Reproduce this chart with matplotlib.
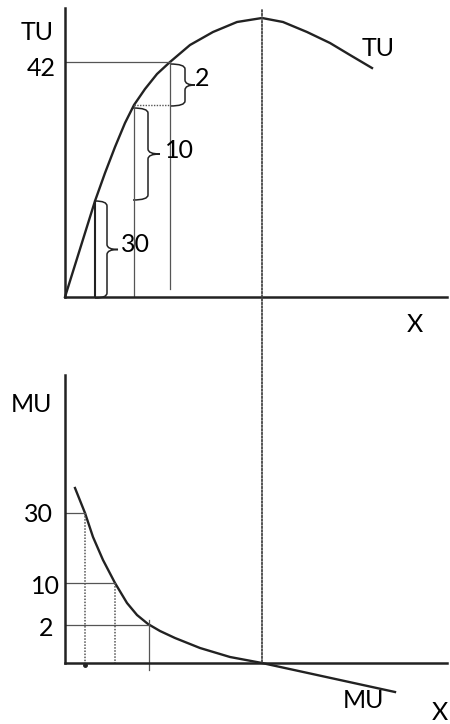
import matplotlib.pyplot as plt
from matplotlib.path import Path
from matplotlib.patches import PathPatch, ConnectionPatch

plt.rcParams['font.family'] = ['Lato', 'DejaVu Sans']

# total utility curve (schematic units)
tu_x = [0, 15, 30, 40, 50, 60, 69, 80, 92, 105, 125, 148, 172, 197, 218, 242, 265, 285, 307]
tu_y = [0, 48, 96, 124, 150, 174, 192, 208, 223, 235, 252, 265, 275, 279, 275, 265, 254, 242, 229]

# marginal utility curve
mu_x = [10, 20, 28, 38, 50, 62, 72, 83, 95, 110, 135, 165, 197, 330]
mu_y = [175, 150, 126, 103, 80, 60, 48, 39, 32, 25, 15, 6, 0, -29]

# consumption levels and the utility levels they reach
units_x = [30, 69, 105]
tu_levels = [96, 192, 235]
mu_units_x = [20, 50, 84]
mu_levels = [150, 80, 38]
mu_labels = ['30', '10', '2']
x_peak = 197

LINE = '#222222'
GUIDE = '#555555'
FS = 18


def draw_brace(ax, xl, xs, xt, yt, yb):
    # curly brace opening to the left, tip pointing right
    ym = (yt + yb) / 2.0
    r = 5
    verts = [(xl, yt), (xs, yt), (xs, yt - r),
             (xs, ym + r), (xs, ym), (xt, ym),
             (xs, ym), (xs, ym - r),
             (xs, yb + r), (xs, yb), (xl, yb)]
    codes = [Path.MOVETO, Path.CURVE3, Path.CURVE3,
             Path.LINETO, Path.CURVE3, Path.CURVE3,
             Path.CURVE3, Path.CURVE3,
             Path.LINETO, Path.CURVE3, Path.CURVE3]
    ax.add_patch(PathPatch(Path(verts, codes), fill=False, lw=1.1,
                           edgecolor=LINE, clip_on=False))


def setup_axes(ax, top):
    ax.set_xlim(0, 382)
    ax.set_ylim(0, top)
    for s in ['top', 'right']:
        ax.spines[s].set_visible(False)
    for s in ['left', 'bottom']:
        ax.spines[s].set_linewidth(1.8)
        ax.spines[s].set_color(LINE)
    ax.set_xticks([])
    ax.set_yticks([])
    ax.patch.set_alpha(0)


fig = plt.figure(figsize=(4.5, 7.24), dpi=100)
W, H = 450.0, 724.0
ax1 = fig.add_axes([65 / W, (H - 297) / H, 382 / W, 289 / H])
ax2 = fig.add_axes([65 / W, (H - 663) / H, 382 / W, 288 / H])
setup_axes(ax1, 289)
setup_axes(ax2, 288)

# ---- top panel: TU
ax1.plot(tu_x, tu_y, color=LINE, lw=1.7, clip_on=False, solid_joinstyle='round')
ax1.plot([0, units_x[2]], [tu_levels[2], tu_levels[2]], color=GUIDE, lw=0.9)
ax1.plot([units_x[2], units_x[2]], [tu_levels[2], 8], color=GUIDE, lw=0.9)
ax1.plot([units_x[1], units_x[2]], [tu_levels[1], tu_levels[1]],
         color=GUIDE, lw=1.0, ls=(0, (1, 1)))
ax1.plot([units_x[1], units_x[1]], [tu_levels[1], 0], color=GUIDE, lw=0.9)
ax1.plot([units_x[0], units_x[0]], [tu_levels[0], 0], color=LINE, lw=1.5)

draw_brace(ax1, 30, 42, 53, 96, -1)
draw_brace(ax1, 68, 83, 95, 189, 97)
draw_brace(ax1, 105, 120, 130, 233, 191)

ax1.text(70, 52, '30', fontsize=FS, ha='center', va='center')
ax1.text(114, 147, '10', fontsize=FS, ha='center', va='center')
ax1.text(137, 218, '2', fontsize=FS, ha='center', va='center')
ax1.text(-28, 264, 'TU', fontsize=FS, ha='center', va='center')
ax1.text(-24, 228, '42', fontsize=FS, ha='center', va='center')
ax1.text(313, 248, 'TU', fontsize=FS, ha='center', va='center')
ax1.text(350, -28, 'X', fontsize=FS, ha='center', va='center')

# ---- bottom panel: MU
ax2.plot(mu_x, mu_y, color=LINE, lw=1.7, clip_on=False, solid_joinstyle='round')
for xu, lv, lab in zip(mu_units_x, mu_levels, mu_labels):
    ax2.plot([0, xu], [lv, lv], color=GUIDE, lw=0.9)
ax2.plot([mu_units_x[0]] * 2, [mu_levels[0], 0], color=GUIDE, lw=1.1, ls=(0, (1, 1)))
ax2.plot([mu_units_x[1]] * 2, [mu_levels[1], 0], color=GUIDE, lw=1.1, ls=(0, (1, 1)))
ax2.plot([mu_units_x[2]] * 2, [mu_levels[2] + 5, -7], color=GUIDE, lw=0.9, clip_on=False)
ax2.plot([mu_units_x[0]], [-2], marker='o', ms=2.5, color=LINE, clip_on=False)

ax2.text(-27, 149, mu_labels[0], fontsize=FS, ha='center', va='center')
ax2.text(-20, 77, mu_labels[1], fontsize=FS, ha='center', va='center')
ax2.text(-19, 35, mu_labels[2], fontsize=FS, ha='center', va='center')
ax2.text(-33, 259, 'MU', fontsize=FS, ha='center', va='center')
ax2.text(298, -38, 'MU', fontsize=FS, ha='center', va='center')
ax2.text(375, -50, 'X', fontsize=FS, ha='center', va='center')

# dotted line from the TU maximum down to where MU = 0
con = ConnectionPatch(xyA=(x_peak, 287), coordsA=ax1.transData,
                      xyB=(x_peak, 0), coordsB=ax2.transData,
                      color='#444444', lw=1.3, ls=(0, (1, 1)))
fig.add_artist(con)

fig.savefig('out.png', dpi=100)
